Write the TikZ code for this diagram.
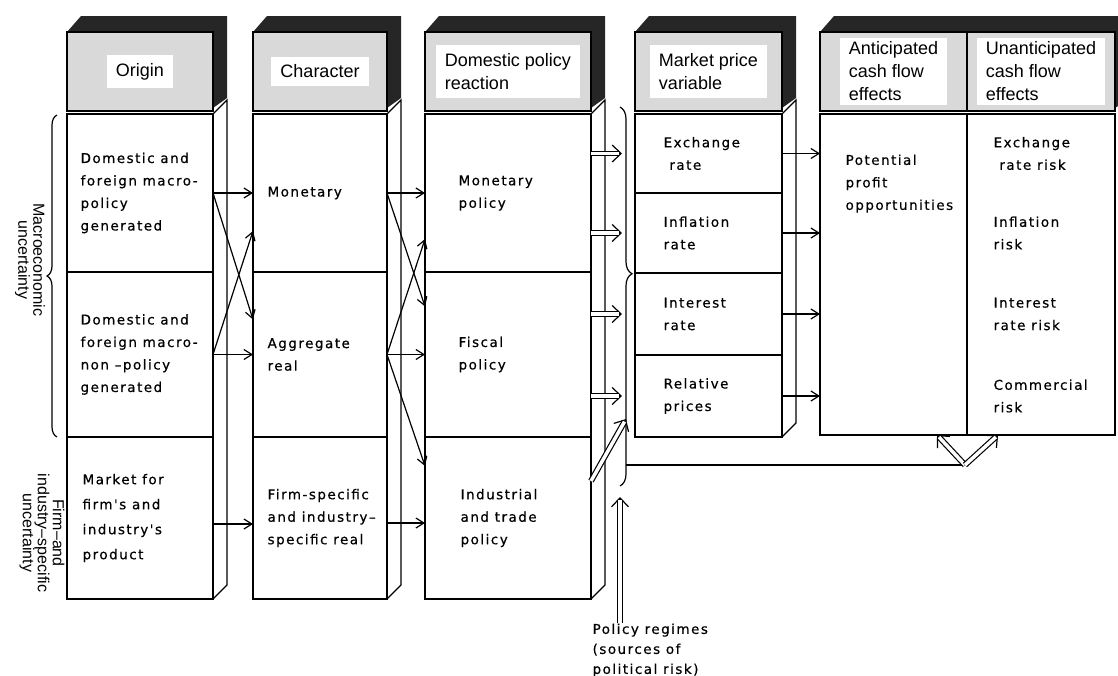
\documentclass[tikz,border=0pt]{standalone}
\usepackage{fontspec}
\setmainfont{Liberation Sans}
\newfontfamily\bodyfont[LetterSpace=11, FakeBold=0.5]{DejaVu Sans}
\usetikzlibrary{arrows.meta,positioning,calc,decorations.pathreplacing}

\tikzset{
  cell/.style={draw, anchor=north west, inner sep=0pt, outer sep=0pt},
  head/.style={draw, fill=gray!30, anchor=north west, minimum height=79pt, inner sep=0pt, outer sep=0pt},
  title/.style={fill=white, font=\fontsize{18}{23}\selectfont, align=left, inner xsep=9pt, inner ysep=8pt},
  txt/.style={font=\bodyfont\fontsize{13.5}{22.5}\selectfont, align=left, inner sep=0pt, anchor=west},
  side/.style={font=\fontsize{16}{15}\selectfont, align=center, rotate=-90},
  arr/.style={-{Straight Barb[length=8pt,width=10pt]}},
  hollowtip/.style={-{Straight Barb[length=9pt,width=17pt]}},
  dblshaft/.style={double, double distance=3.5pt, shorten >=3pt}
}
% hollow double arrow: tip first, then the double shaft over it
\newcommand{\hollowarrow}[2]{\draw[hollowtip] #1 -- #2; \draw[dblshaft] #1 -- #2;}

\begin{document}
\begin{tikzpicture}[x=1pt, y=-1pt, line width=1.2pt]
  \clip (0,0) rectangle (1118,675);

  % 3d faces of the columns
  \foreach \xa/\xb/\yb in {67/213/599, 253/387/599, 425/591/599, 635/782/437}{
    \fill[black!85] (\xa,32) -- (\xa+14,16) -- (\xb+14,16) -- (\xb+14,98) -- (\xb,108) -- (\xb,32) -- cycle;
    \draw (\xb,114) -- (\xb+14,100) -- (\xb+14,\yb-14) -- (\xb,\yb);
  }
  \fill[black!85] (820,32) -- (834,16) -- (1130,16) -- (1130,98) -- (1115,108) -- (1115,32) -- cycle;

  % origin
  \node[head, minimum width=146pt] (h1) at (67,32) {};
  \node[title] (t1) at (h1.center) {Origin};
  \node[cell, minimum width=146pt, minimum height=158pt] (o1) at (67,114) {};
  \node[cell, minimum width=146pt, minimum height=165pt] (o2) at (o1.south west) {};
  \node[cell, minimum width=146pt, minimum height=162pt] (o3) at (o2.south west) {};
  \node[txt, right=13pt of o1.west] (o1t) {Domestic and\\foreign macro-\\policy\\generated};
  \node[txt, right=13pt of o2.west] (o2t) {Domestic and\\foreign macro-\\non –policy\\generated};
  \node[txt, right=15pt of o3.west, font=\bodyfont\fontsize{13.5}{25}\selectfont] (o3t) {Market for\\firm's and\\industry's\\product};

  % character
  \node[head, minimum width=134pt] (h2) at (253,32) {};
  \node[title] (t2) at (h2.center) {Character};
  \node[cell, minimum width=134pt, minimum height=158pt] (c1) at (253,114) {};
  \node[cell, minimum width=134pt, minimum height=165pt] (c2) at (c1.south west) {};
  \node[cell, minimum width=134pt, minimum height=162pt] (c3) at (c2.south west) {};
  \node[txt, right=14pt of c1.west] (c1t) {Monetary};
  \node[txt, right=14pt of c2.west] (c2t) {Aggregate\\real};
  \node[txt, right=14pt of c3.west] (c3t) {Firm-specific\\and industry–\\specific real};

  % domestic policy reaction
  \node[head, minimum width=166pt] (h3) at (425,32) {};
  \node[title] (t3) at (h3.center) {Domestic policy\\reaction};
  \node[cell, minimum width=166pt, minimum height=158pt] (d1) at (425,114) {};
  \node[cell, minimum width=166pt, minimum height=165pt] (d2) at (d1.south west) {};
  \node[cell, minimum width=166pt, minimum height=162pt] (d3) at (d2.south west) {};
  \node[txt, right=33pt of d1.west] (d1t) {Monetary\\policy};
  \node[txt, right=33pt of d2.west] (d2t) {Fiscal\\policy};
  \node[txt, right=35pt of d3.west] (d3t) {Industrial\\and trade\\policy};

  % market price variable
  \node[head, minimum width=147pt] (h4) at (635,32) {};
  \node[title] (t4) at (h4.center) {Market price\\variable};
  \node[cell, minimum width=147pt, minimum height=79pt] (m1) at (635,114) {};
  \node[cell, minimum width=147pt, minimum height=80pt] (m2) at (m1.south west) {};
  \node[cell, minimum width=147pt, minimum height=82pt] (m3) at (m2.south west) {};
  \node[cell, minimum width=147pt, minimum height=82pt] (m4) at (m3.south west) {};
  \node[txt, right=28pt of m1.west] (m1t) {Exchange\\\ rate};
  \node[txt, right=28pt of m2.west] (m2t) {Inflation\\rate};
  \node[txt, right=28pt of m3.west] (m3t) {Interest\\rate};
  \node[txt, right=28pt of m4.west] (m4t) {Relative\\prices};

  % cash flow effects
  \node[head, minimum width=147pt] (hfa) at (820,32) {};
  \node[head, minimum width=148pt] (hfb) at (967,32) {};
  \node[title, inner ysep=4pt] (tfa) at (hfa.center) {Anticipated\\cash flow\\effects};
  \node[title, inner ysep=4pt] (tfb) at (hfb.center) {Unanticipated\\cash flow\\effects};
  \node[cell, minimum width=147pt, minimum height=321pt] (cfa) at (820,114) {};
  \node[cell, minimum width=148pt, minimum height=321pt] (cfb) at (967,114) {};
  \node[txt, below right=40pt and 25pt of cfa.north west] (cfat) {Potential\\profit\\opportunities};
  \node[txt] (u1) at ($(cfb.west |- m1)+(26,0)$) {Exchange\\\ rate risk};
  \node[txt] (u2) at ($(cfb.west |- m2)+(26,0)$) {Inflation\\risk};
  \node[txt] (u3) at ($(cfb.west |- m3)+(26,0)$) {Interest\\rate risk};
  \node[txt] (u4) at ($(cfb.west |- m4)+(26,0)$) {Commercial\\risk};

  % side labels
  \draw[decorate, decoration={brace, amplitude=10pt}] (57,437) -- (57,115);
  \node[side] (lmac) at (30,260) {Macroeconomic\\uncertainty};
  \node[side] (lfirm) at (42,533) {Firm–and\\industry–specific\\uncertainty};

  % origin -> character
  \draw[arr] (o1.east) -- (c1.west);
  \draw[arr] (o1.east) -- ([yshift=35pt]c2.west);
  \draw[arr] (o2.east) -- ([yshift=-38pt]c1.west);
  \draw[arr] (o2.east) -- (c2.west);
  \draw[arr] ([yshift=-6pt]o3.east) -- ([yshift=-6pt]c3.west);

  % character -> policy reaction
  \draw[arr] (c1.east) -- (d1.west);
  \draw[arr] (c1.east) -- ([yshift=48pt]d2.west);
  \draw[arr] (c2.east) -- ([yshift=-46pt]d1.west);
  \draw[arr] (c2.east) -- (d2.west);
  \draw[arr] (c2.east) -- ([yshift=52pt]d3.west);
  \draw[arr] ([yshift=-5pt]c3.east) -- ([yshift=-5pt]d3.west);

  % policy reaction -> market prices
  \coordinate (brc) at (622,0);
  \coordinate (diagtip) at (626,419);
  \draw[decorate, decoration={brace, amplitude=12pt, aspect=0.44}] (620,107) -- (620,486);
  \foreach \m in {m1,m2,m3,m4}{
    \hollowarrow{(d1.east |- \m)}{(brc |- \m)}
  }
  \hollowarrow{([yshift=37pt]d3.east)}{(diagtip)}

  % market prices -> cash flow
  \foreach \m in {m1,m2,m3,m4}
    \draw[arr] (\m.east) -- (\m.east -| cfa.west);

  % policy regimes
  \node[txt, anchor=north west, font=\bodyfont\fontsize{13.5}{20}\selectfont] (pol) at (592,623) {Policy regimes\\(sources of\\political risk)};
  \coordinate (regtip) at (620,497);
  \hollowarrow{(regtip |- pol.north)}{(regtip)}

  % feedback to cash flow effects
  \coordinate (vtx) at (965,465);
  \draw (626,465) -- (vtx);
  \hollowarrow{(vtx)}{([xshift=-30pt]cfa.south east)}
  \hollowarrow{(vtx)}{([xshift=31pt]cfb.south west)}
\end{tikzpicture}
\end{document}
